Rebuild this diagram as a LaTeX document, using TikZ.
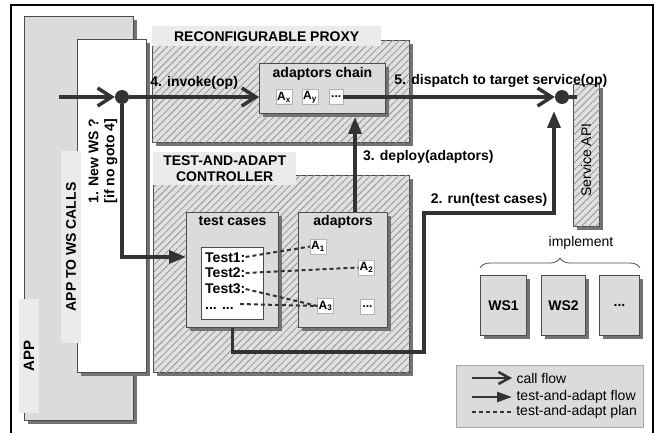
\documentclass[tikz,border=0pt]{standalone}
\usepackage{fontspec}
\setmainfont{Liberation Sans}
\usetikzlibrary{arrows.meta,shadows,patterns.meta,decorations.pathreplacing,positioning}

\definecolor{boxgray}{gray}{0.86}
\definecolor{lblgray}{gray}{0.92}
\definecolor{hatchbg}{gray}{0.88}
\definecolor{hatchln}{gray}{0.58}
\definecolor{edgegray}{gray}{0.30}
\definecolor{flowgray}{gray}{0.2}

\tikzset{
  boldtext/.style={font=\fontsize{14}{16}\selectfont\bfseries},
  normaltext/.style={font=\fontsize{14}{16}\selectfont},
  subtext/.style={font=\fontsize{12}{14}\selectfont\bfseries},
  testline/.style={boldtext, anchor=west, inner sep=0, text height=10pt, text depth=0pt},
  shadowed box/.style={draw=edgegray, line width=1pt,
    drop shadow={shadow xshift=3.5pt, shadow yshift=-3.5pt, opacity=1, fill=black!55}},
  graybox/.style={shadowed box, fill=boxgray, anchor=north west, inner sep=0},
  whitebox/.style={shadowed box, fill=white, anchor=north west, inner sep=0},
  hatchbox/.style={shadowed box, fill=hatchbg, anchor=north west, inner sep=0,
    postaction={pattern={Lines[angle=45,distance=5pt,line width=0.8pt]}, pattern color=hatchln}},
  lblbox/.style={fill=lblgray, boldtext, inner sep=0},
  abox/.style={draw=gray!60, fill=white, subtext, inner sep=1pt, minimum height=15, minimum width=14},
  dot/.style={circle, fill=flowgray, minimum size=14, inner sep=0},
  callflow/.style={draw=flowgray, line width=3.5pt, -{Straight Barb[length=14pt,width=18pt]}},
  adaptflow/.style={draw=flowgray, line width=3.5pt, -{Triangle[length=17pt,width=13pt]}},
  plan/.style={draw=flowgray, line width=2pt, dash pattern=on 4pt off 3pt},
}

\begin{document}
\begin{tikzpicture}[x=1pt, y=-1pt]
  \useasboundingbox (0,0) rectangle (657,433);
  % outer frame
  \draw[line width=1.2pt] (11,433) -- (11,5) -- (653,5) -- (653,433);

  % application side
  \node (app) [graybox, minimum width=109, minimum height=404] at (24,16) {};
  \node (applbl) [lblbox, rotate=90, minimum width=113, minimum height=20,
    font=\fontsize{15}{17}\selectfont\bfseries] at (29,356) {APP};
  \node (calls) [whitebox, minimum width=69, minimum height=333] at (77,39) {};
  \node (callslbl) [lblbox, rotate=90, minimum width=191, minimum height=20] at (71,247) {APP TO WS CALLS};
  \node (newws) [boldtext, rotate=90, align=left] at (103,161) {1. New WS ?\\{[if no goto 4]}};

  % proxy
  \node (proxy) [hatchbox, minimum width=257, minimum height=102] at (152,40) {};
  \node (proxylbl) [lblbox, anchor=north west, minimum width=229, minimum height=20] at (152,26) {RECONFIGURABLE PROXY};
  \node (chain) [graybox, minimum width=126, minimum height=50] at (259,63) {};
  \node (chaint) [boldtext, below=1pt of chain.north] {adaptors chain};
  \node (ax) [abox] at (284,97) {A\textsubscript{x}};
  \node (ay) [abox, right=10pt of ax] {A\textsubscript{y}};
  \node (cdots) [abox, right=11pt of ay] {...};

  % controller
  \node (ctrl) [hatchbox, minimum width=256, minimum height=197] at (153,175) {};
  \node (ctrllbl) [lblbox, anchor=north west, minimum width=143, minimum height=33, align=center] at (153,152) {TEST-AND-ADAPT\\CONTROLLER};
  \node (tcbox) [graybox, minimum width=92, minimum height=115] at (186,212) {};
  \node (tct) [boldtext, below=1pt of tcbox.north] {test cases};
  \node (tlist) [draw=edgegray, fill=white, anchor=north west, minimum width=62, minimum height=72, inner sep=0] at (201,247) {};
  \node (t1) [testline] at (205,257) {Test1:};
  \node (t2) [testline] at (205,273) {Test2:};
  \node (t3) [testline] at (205,289) {Test3:};
  \node (t4) [testline] at (205,304) {... ...};
  \node (adbox) [graybox, minimum width=89, minimum height=115] at (298,212) {};
  \node (adt) [boldtext, below=0pt of adbox.north] {adaptors};
  \node (a1) [abox] at (318,246.5) {A\textsubscript{1}};
  \node (a2) [abox] at (366.5,267.5) {A\textsubscript{2}};
  \node (a3) [abox] at (325.5,306) {A\textsubscript{3}};
  \node (adots) [abox] at (367.5,306.5) {...};

  % target service
  \node (api) [hatchbox, minimum width=26, minimum height=142] at (573,84) {};
  \node (apit) [normaltext, rotate=90] at (586,160) {Service API};
  \node (impl) [normaltext] at (581,243) {implement};
  \node (ws1) [graybox, boldtext, minimum width=46, minimum height=60] at (480,275) {WS1};
  \node (ws2) [graybox, boldtext, minimum width=44, minimum height=60] at (541,275) {WS2};
  \node (ws3) [graybox, boldtext, minimum width=40, minimum height=60] at (599,275) {...};
  \draw[edgegray, line width=0.8pt, decorate, decoration={brace, amplitude=10pt}]
    ([yshift=7]ws1.north west) -- ([yshift=7]ws3.north east);

  % legend
  \node (legend) [draw=gray!70, fill=boxgray, anchor=north west, minimum width=187, minimum height=62, inner sep=0] at (456,365) {};
  \coordinate (l1) at (472,378);
  \coordinate (l2) at (472,397);
  \coordinate (l3) at (472,412);
  \draw[draw=flowgray, line width=2.5pt, -{Straight Barb[length=11pt,width=12pt]}] (l1) -- ++(40,0)
    node (lcall) [normaltext, right] {call flow};
  \draw[draw=flowgray, line width=2.5pt, -{Triangle[length=15pt,width=10pt]}] (l2) -- ++(40,0)
    node (ladapt) [normaltext, right] {test-and-adapt flow};
  \draw[plan] (l3) -- ++(40,0)
    node (lplan) [normaltext, right] {test-and-adapt plan};

  % call flow
  \coordinate (caller) at (59,97);
  \node (fork) [dot] at (122,97) {};
  \draw[callflow] (caller) -- (fork);
  \draw[callflow] (fork) -- node (invoke) [boldtext, above=3pt] {4. invoke(op)} (fork -| chain.west);
  \node (target) [dot] at (562,97) {};
  \draw[callflow] (cdots) -- node (dispatch) [boldtext, above=4pt, pos=0.745] {5. dispatch to target service(op)} (target);
  \coordinate (apiin) at (577,97);
  \draw[draw=flowgray, line width=3.5pt] (target) -- (apiin);

  % test-and-adapt flow
  \draw[adaptflow] (fork) |- (tcbox.west |- t1);
  \draw[adaptflow] ([xshift=12]adbox.north) -- node (deploy) [boldtext, right=3pt, pos=0.58] {3. deploy(adaptors)}
    ([xshift=12,yshift=-3]adbox.north |- chain.south);
  \coordinate (bend1) at (424,352);
  \coordinate (bend2) at (554,213);
  \coordinate (hit) at (554,111);
  \draw[adaptflow] (tcbox.south) |- (bend1) |- node (run) [boldtext, above=2pt, pos=0.75] {2. run(test cases)} (bend2) -- (hit);

  % test-and-adapt plan
  \draw[plan] (t1.east) -- (a1.west);
  \draw[plan] (t2.east) -- (a2.west);
  \draw[plan] (t3.east) -- (a3.west);
  \draw[plan] ([xshift=6]t4.east) -- (a3.west);
\end{tikzpicture}
\end{document}
